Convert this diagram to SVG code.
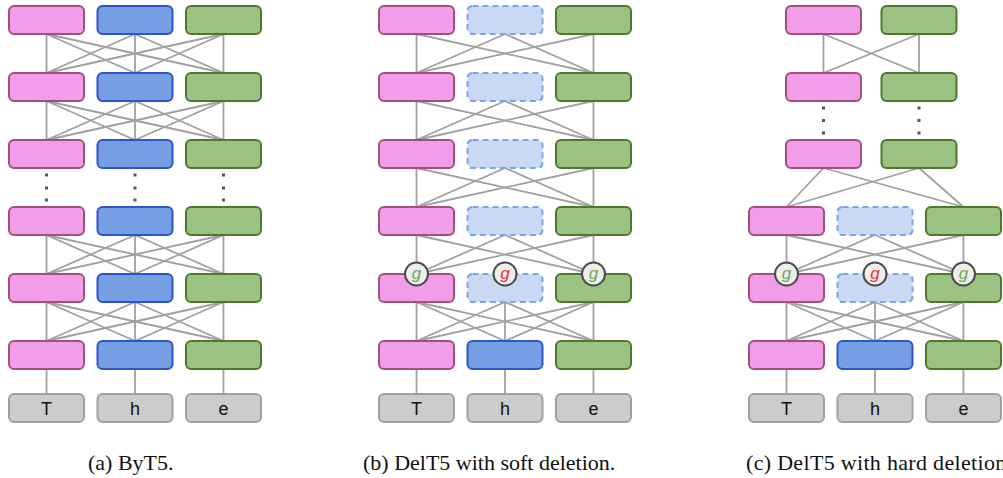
<svg xmlns="http://www.w3.org/2000/svg" width="1003" height="478" viewBox="0 0 1003 478">
<style>
rect{stroke-width:2}
.pk{fill:#f19de7;stroke:#a0507f}
.bl{fill:#769ee3;stroke:#2b55c9}
.gr{fill:#9cc283;stroke:#4b7a2a}
.db{fill:#c9d9f3;stroke:#7ea3ec;stroke-dasharray:6 4}
.tk{fill:#cccccc;stroke:#a0a0a0}
.ln line{stroke:#a0a0a0;stroke-width:1.8}
.gc{fill:#eeeeee;stroke:#4a4a4a;stroke-width:2}
.gt{font-family:"Liberation Sans",Arial,sans-serif;font-style:italic;font-size:17px;text-anchor:middle}
.tt{font-family:"Liberation Sans",Arial,sans-serif;font-size:18px;text-anchor:middle;fill:#111}
.cap{font-family:"Liberation Serif","Times New Roman",serif;font-size:22px;fill:#111}
.dot rect{fill:#555;stroke:none}
</style>
<defs>
<rect id="bx" width="75" height="28" rx="5"/>
</defs>

<!-- connectors -->
<g id="connectors" class="ln">
<g id="conn-a">
<line x1="46.5" y1="34" x2="46.5" y2="73"/><line x1="46.5" y1="34" x2="135" y2="73"/><line x1="46.5" y1="34" x2="223.5" y2="73"/>
<line x1="135" y1="34" x2="46.5" y2="73"/><line x1="135" y1="34" x2="135" y2="73"/><line x1="135" y1="34" x2="223.5" y2="73"/>
<line x1="223.5" y1="34" x2="46.5" y2="73"/><line x1="223.5" y1="34" x2="135" y2="73"/><line x1="223.5" y1="34" x2="223.5" y2="73"/>
<line x1="46.5" y1="101" x2="46.5" y2="140"/><line x1="46.5" y1="101" x2="135" y2="140"/><line x1="46.5" y1="101" x2="223.5" y2="140"/>
<line x1="135" y1="101" x2="46.5" y2="140"/><line x1="135" y1="101" x2="135" y2="140"/><line x1="135" y1="101" x2="223.5" y2="140"/>
<line x1="223.5" y1="101" x2="46.5" y2="140"/><line x1="223.5" y1="101" x2="135" y2="140"/><line x1="223.5" y1="101" x2="223.5" y2="140"/>
<line x1="46.5" y1="235" x2="46.5" y2="274"/><line x1="46.5" y1="235" x2="135" y2="274"/><line x1="46.5" y1="235" x2="223.5" y2="274"/>
<line x1="135" y1="235" x2="46.5" y2="274"/><line x1="135" y1="235" x2="135" y2="274"/><line x1="135" y1="235" x2="223.5" y2="274"/>
<line x1="223.5" y1="235" x2="46.5" y2="274"/><line x1="223.5" y1="235" x2="135" y2="274"/><line x1="223.5" y1="235" x2="223.5" y2="274"/>
<line x1="46.5" y1="302" x2="46.5" y2="341"/><line x1="46.5" y1="302" x2="135" y2="341"/><line x1="46.5" y1="302" x2="223.5" y2="341"/>
<line x1="135" y1="302" x2="46.5" y2="341"/><line x1="135" y1="302" x2="135" y2="341"/><line x1="135" y1="302" x2="223.5" y2="341"/>
<line x1="223.5" y1="302" x2="46.5" y2="341"/><line x1="223.5" y1="302" x2="135" y2="341"/><line x1="223.5" y1="302" x2="223.5" y2="341"/>
<line x1="46.5" y1="369" x2="46.5" y2="394"/><line x1="135" y1="369" x2="135" y2="394"/><line x1="223.5" y1="369" x2="223.5" y2="394"/>
</g>
<g id="conn-b">
<line x1="416.5" y1="34" x2="416.5" y2="73"/><line x1="416.5" y1="34" x2="593.5" y2="73"/>
<line x1="505" y1="34" x2="416.5" y2="73"/><line x1="505" y1="34" x2="593.5" y2="73"/>
<line x1="593.5" y1="34" x2="416.5" y2="73"/><line x1="593.5" y1="34" x2="593.5" y2="73"/>
<line x1="416.5" y1="101" x2="416.5" y2="140"/><line x1="416.5" y1="101" x2="593.5" y2="140"/>
<line x1="505" y1="101" x2="416.5" y2="140"/><line x1="505" y1="101" x2="593.5" y2="140"/>
<line x1="593.5" y1="101" x2="416.5" y2="140"/><line x1="593.5" y1="101" x2="593.5" y2="140"/>
<line x1="416.5" y1="168" x2="416.5" y2="207"/><line x1="416.5" y1="168" x2="593.5" y2="207"/>
<line x1="505" y1="168" x2="416.5" y2="207"/><line x1="505" y1="168" x2="593.5" y2="207"/>
<line x1="593.5" y1="168" x2="416.5" y2="207"/><line x1="593.5" y1="168" x2="593.5" y2="207"/>
<line x1="416.5" y1="235" x2="416.5" y2="274"/><line x1="416.5" y1="235" x2="593.5" y2="274"/>
<line x1="505" y1="235" x2="416.5" y2="274"/><line x1="505" y1="235" x2="593.5" y2="274"/>
<line x1="593.5" y1="235" x2="416.5" y2="274"/><line x1="593.5" y1="235" x2="593.5" y2="274"/>
<line x1="416.5" y1="302" x2="416.5" y2="341"/><line x1="416.5" y1="302" x2="505" y2="341"/><line x1="416.5" y1="302" x2="593.5" y2="341"/>
<line x1="505" y1="302" x2="416.5" y2="341"/><line x1="505" y1="302" x2="505" y2="341"/><line x1="505" y1="302" x2="593.5" y2="341"/>
<line x1="593.5" y1="302" x2="416.5" y2="341"/><line x1="593.5" y1="302" x2="505" y2="341"/><line x1="593.5" y1="302" x2="593.5" y2="341"/>
<line x1="416.5" y1="369" x2="416.5" y2="394"/><line x1="505" y1="369" x2="505" y2="394"/><line x1="593.5" y1="369" x2="593.5" y2="394"/>
</g>
<g id="conn-c">
<line x1="823.5" y1="34" x2="823.5" y2="73"/><line x1="823.5" y1="34" x2="919" y2="73"/>
<line x1="919" y1="34" x2="823.5" y2="73"/><line x1="919" y1="34" x2="919" y2="73"/>
<line x1="823.5" y1="168" x2="786.5" y2="207"/><line x1="823.5" y1="168" x2="963.5" y2="207"/>
<line x1="919" y1="168" x2="786.5" y2="207"/><line x1="919" y1="168" x2="963.5" y2="207"/>
<line x1="786.5" y1="235" x2="786.5" y2="274"/><line x1="786.5" y1="235" x2="963.5" y2="274"/>
<line x1="875" y1="235" x2="786.5" y2="274"/><line x1="875" y1="235" x2="963.5" y2="274"/>
<line x1="963.5" y1="235" x2="786.5" y2="274"/><line x1="963.5" y1="235" x2="963.5" y2="274"/>
<line x1="786.5" y1="302" x2="786.5" y2="341"/><line x1="786.5" y1="302" x2="875" y2="341"/><line x1="786.5" y1="302" x2="963.5" y2="341"/>
<line x1="875" y1="302" x2="786.5" y2="341"/><line x1="875" y1="302" x2="875" y2="341"/><line x1="875" y1="302" x2="963.5" y2="341"/>
<line x1="963.5" y1="302" x2="786.5" y2="341"/><line x1="963.5" y1="302" x2="875" y2="341"/><line x1="963.5" y1="302" x2="963.5" y2="341"/>
<line x1="786.5" y1="369" x2="786.5" y2="394"/><line x1="875" y1="369" x2="875" y2="394"/><line x1="963.5" y1="369" x2="963.5" y2="394"/>
</g>
</g>

<!-- dots -->
<g id="dots" class="dot">
<rect x="45" y="173.5" width="3" height="3"/><rect x="45" y="186.5" width="3" height="3"/><rect x="45" y="198.5" width="3" height="3"/>
<rect x="133.5" y="173.5" width="3" height="3"/><rect x="133.5" y="186.5" width="3" height="3"/><rect x="133.5" y="198.5" width="3" height="3"/>
<rect x="222" y="173.5" width="3" height="3"/><rect x="222" y="186.5" width="3" height="3"/><rect x="222" y="198.5" width="3" height="3"/>
<rect x="822" y="106.5" width="3" height="3"/><rect x="822" y="119" width="3" height="3"/><rect x="822" y="131.5" width="3" height="3"/>
<rect x="917.5" y="106.5" width="3" height="3"/><rect x="917.5" y="119" width="3" height="3"/><rect x="917.5" y="131.5" width="3" height="3"/>
</g>

<!-- panel a nodes -->
<g id="a-p1"><use href="#bx" class="pk" x="9" y="6"/></g>
<g id="a-b1"><use href="#bx" class="bl" x="97.5" y="6"/></g>
<g id="a-g1"><use href="#bx" class="gr" x="186" y="6"/></g>
<g id="a-p2"><use href="#bx" class="pk" x="9" y="73"/></g>
<g id="a-b2"><use href="#bx" class="bl" x="97.5" y="73"/></g>
<g id="a-g2"><use href="#bx" class="gr" x="186" y="73"/></g>
<g id="a-p3"><use href="#bx" class="pk" x="9" y="140"/></g>
<g id="a-b3"><use href="#bx" class="bl" x="97.5" y="140"/></g>
<g id="a-g3"><use href="#bx" class="gr" x="186" y="140"/></g>
<g id="a-p4"><use href="#bx" class="pk" x="9" y="207"/></g>
<g id="a-b4"><use href="#bx" class="bl" x="97.5" y="207"/></g>
<g id="a-g4"><use href="#bx" class="gr" x="186" y="207"/></g>
<g id="a-p5"><use href="#bx" class="pk" x="9" y="274"/></g>
<g id="a-b5"><use href="#bx" class="bl" x="97.5" y="274"/></g>
<g id="a-g5"><use href="#bx" class="gr" x="186" y="274"/></g>
<g id="a-p6"><use href="#bx" class="pk" x="9" y="341"/></g>
<g id="a-b6"><use href="#bx" class="bl" x="97.5" y="341"/></g>
<g id="a-g6"><use href="#bx" class="gr" x="186" y="341"/></g>
<g id="a-tT"><use href="#bx" class="tk" x="9" y="394"/><text class="tt" x="46.5" y="415">T</text></g>
<g id="a-th"><use href="#bx" class="tk" x="97.5" y="394"/><text class="tt" x="135" y="415">h</text></g>
<g id="a-te"><use href="#bx" class="tk" x="186" y="394"/><text class="tt" x="223.5" y="415">e</text></g>

<!-- panel b nodes -->
<g id="b-p1"><use href="#bx" class="pk" x="379" y="6"/></g>
<g id="b-b1"><use href="#bx" class="db" x="467.5" y="6"/></g>
<g id="b-g1"><use href="#bx" class="gr" x="556" y="6"/></g>
<g id="b-p2"><use href="#bx" class="pk" x="379" y="73"/></g>
<g id="b-b2"><use href="#bx" class="db" x="467.5" y="73"/></g>
<g id="b-g2"><use href="#bx" class="gr" x="556" y="73"/></g>
<g id="b-p3"><use href="#bx" class="pk" x="379" y="140"/></g>
<g id="b-b3"><use href="#bx" class="db" x="467.5" y="140"/></g>
<g id="b-g3"><use href="#bx" class="gr" x="556" y="140"/></g>
<g id="b-p4"><use href="#bx" class="pk" x="379" y="207"/></g>
<g id="b-b4"><use href="#bx" class="db" x="467.5" y="207"/></g>
<g id="b-g4"><use href="#bx" class="gr" x="556" y="207"/></g>
<g id="b-p5"><use href="#bx" class="pk" x="379" y="274"/><circle class="gc" cx="416.5" cy="274" r="11.5"/><text class="gt" x="416.5" y="279" fill="#6aa84f">g</text></g>
<g id="b-b5"><use href="#bx" class="db" x="467.5" y="274"/><circle class="gc" cx="505" cy="274" r="11.5"/><text class="gt" x="505" y="279" fill="#e8302a">g</text></g>
<g id="b-g5"><use href="#bx" class="gr" x="556" y="274"/><circle class="gc" cx="593.5" cy="274" r="11.5"/><text class="gt" x="593.5" y="279" fill="#6aa84f">g</text></g>
<g id="b-p6"><use href="#bx" class="pk" x="379" y="341"/></g>
<g id="b-b6"><use href="#bx" class="bl" x="467.5" y="341"/></g>
<g id="b-g6"><use href="#bx" class="gr" x="556" y="341"/></g>
<g id="b-tT"><use href="#bx" class="tk" x="379" y="394"/><text class="tt" x="416.5" y="415">T</text></g>
<g id="b-th"><use href="#bx" class="tk" x="467.5" y="394"/><text class="tt" x="505" y="415">h</text></g>
<g id="b-te"><use href="#bx" class="tk" x="556" y="394"/><text class="tt" x="593.5" y="415">e</text></g>

<!-- panel c nodes -->
<g id="c-p1"><use href="#bx" class="pk" x="786" y="6"/></g>
<g id="c-g1"><use href="#bx" class="gr" x="881.5" y="6"/></g>
<g id="c-p2"><use href="#bx" class="pk" x="786" y="73"/></g>
<g id="c-g2"><use href="#bx" class="gr" x="881.5" y="73"/></g>
<g id="c-p3"><use href="#bx" class="pk" x="786" y="140"/></g>
<g id="c-g3"><use href="#bx" class="gr" x="881.5" y="140"/></g>
<g id="c-p4"><use href="#bx" class="pk" x="749" y="207"/></g>
<g id="c-b4"><use href="#bx" class="db" x="837.5" y="207"/></g>
<g id="c-g4"><use href="#bx" class="gr" x="926" y="207"/></g>
<g id="c-p5"><use href="#bx" class="pk" x="749" y="274"/><circle class="gc" cx="786.5" cy="274" r="11.5"/><text class="gt" x="786.5" y="279" fill="#6aa84f">g</text></g>
<g id="c-b5"><use href="#bx" class="db" x="837.5" y="274"/><circle class="gc" cx="875" cy="274" r="11.5"/><text class="gt" x="875" y="279" fill="#e8302a">g</text></g>
<g id="c-g5"><use href="#bx" class="gr" x="926" y="274"/><circle class="gc" cx="963.5" cy="274" r="11.5"/><text class="gt" x="963.5" y="279" fill="#6aa84f">g</text></g>
<g id="c-p6"><use href="#bx" class="pk" x="749" y="341"/></g>
<g id="c-b6"><use href="#bx" class="bl" x="837.5" y="341"/></g>
<g id="c-g6"><use href="#bx" class="gr" x="926" y="341"/></g>
<g id="c-tT"><use href="#bx" class="tk" x="749" y="394"/><text class="tt" x="786.5" y="415">T</text></g>
<g id="c-th"><use href="#bx" class="tk" x="837.5" y="394"/><text class="tt" x="875" y="415">h</text></g>
<g id="c-te"><use href="#bx" class="tk" x="926" y="394"/><text class="tt" x="963.5" y="415">e</text></g>

<!-- captions -->
<g id="captions">
<text class="cap" x="88" y="470">(a) ByT5.</text>
<text class="cap" x="363" y="470">(b) DelT5 with soft deletion.</text>
<text class="cap" x="746" y="470" textLength="266" lengthAdjust="spacing">(c) DelT5 with hard deletion.</text>
</g>
</svg>
